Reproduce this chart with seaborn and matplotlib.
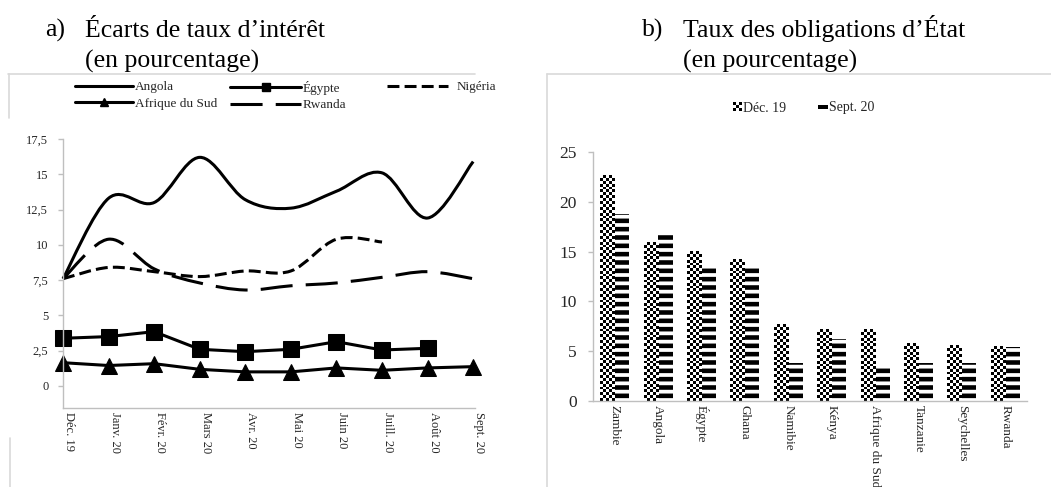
import numpy as np
import pandas as pd
import matplotlib
matplotlib.use("Agg")
import matplotlib.pyplot as plt
import seaborn as sns
from matplotlib.path import Path
from matplotlib.patches import PathPatch, Rectangle, Patch
from matplotlib.lines import Line2D
from matplotlib.legend_handler import HandlerBase

# ---------------- data ----------------
mois = ["Déc. 19", "Janv. 20", "Févr. 20", "Mars 20", "Avr. 20", "Mai 20",
        "Juin 20", "Juill. 20", "Août 20", "Sept. 20"]
angola = [7.6, 13.3, 13.0, 16.2, 13.2, 12.6, 13.8, 15.1, 11.9, 15.9]
egypte = [3.38, 3.5, 3.85, 2.6, 2.43, 2.6, 3.14, 2.55, 2.67, np.nan]
nigeria = [7.6, 8.4, 8.1, 7.75, 8.15, 8.15, 10.4, 10.2, np.nan, np.nan]
afrique_sud = [1.65, 1.45, 1.58, 1.18, 1.0, 1.0, 1.28, 1.11, 1.28, 1.37]
rwanda = [7.6, 10.4, 8.3, 7.3, 6.8, 7.1, 7.3, 7.7, 8.1, 7.6]
yticks_a = [0, 2.5, 5, 7.5, 10, 12.5, 15, 17.5]

pays = ["Zambie", "Angola", "Égypte", "Ghana", "Namibie", "Kénya",
        "Afrique du Sud", "Tanzanie", "Seychelles", "Rwanda"]
dec19 = [22.6, 15.9, 15.0, 14.2, 7.65, 7.15, 7.15, 5.8, 5.6, 5.45]
sept20 = [18.8, 17.0, 13.6, 13.6, 3.8, 6.2, 3.45, 3.8, 3.8, 5.45]
yticks_b = [0, 5, 10, 15, 20, 25]

# ---------------- style ----------------
sns.set_style("white")
plt.rcParams["font.family"] = ["Liberation Serif", "DejaVu Serif"]
plt.rcParams["hatch.linewidth"] = 3.3
plt.rcParams["hatch.color"] = "black"
GREY = "#bfbfbf"
FRAME = "#d9d9d9"
LW = 2.2

W, H = 1051, 487
fig = plt.figure(figsize=(W / 100, H / 100), dpi=100)
fig.patch.set_facecolor("white")


def fx(px):
    return px / W


def fy(py):
    return 1 - py / H


# chart-area frame fragments
for (x0, y0, x1, y1) in [(8, 74, 475, 74), (9, 74, 9, 118), (10, 438, 10, 487),
                         (547, 74, 1051, 74), (547, 74, 547, 487)]:
    fig.add_artist(Line2D([fx(x0), fx(x1)], [fy(y0), fy(y1)],
                          transform=fig.transFigure, color=FRAME, lw=1.2))

# titles
tkw = dict(fontsize=18.5, va="baseline", ha="left", color="black")
fig.text(fx(45), fy(37), "a)", **tkw)
fig.text(fx(85), fy(37), "Écarts de taux d\u2019intérêt", **tkw)
fig.text(fx(85), fy(68), "(en pourcentage)", **tkw)
fig.text(fx(642), fy(37), "b)", **tkw)
fig.text(fx(683), fy(37), "Taux des obligations d\u2019État", **tkw)
fig.text(fx(683), fy(68), "(en pourcentage)", **tkw)

# ---------------- panel a ----------------
ax1 = fig.add_axes([fx(63), fy(408), (475 - 63) / W, (408 - 139) / H])
x = np.arange(len(mois))
df_a = pd.DataFrame({"x": x, "Égypte": egypte, "Afrique du Sud": afrique_sud})
sns.lineplot(data=df_a, x="x", y="Égypte", ax=ax1, color="black", lw=LW,
             marker="s", markersize=11, markeredgecolor="black")
sns.lineplot(data=df_a, x="x", y="Afrique du Sud", ax=ax1, color="black", lw=LW,
             marker="^", markersize=11, markeredgecolor="black")
for ln in ax1.lines:
    ln.set_clip_on(False)


def smooth_path(xs, ys):
    P = np.array([(a, b) for a, b in zip(xs, ys) if not np.isnan(b)], float)
    n = len(P)
    verts = [P[0]]
    codes = [Path.MOVETO]
    for i in range(n - 1):
        p0 = P[i - 1] if i > 0 else P[i]
        p1 = P[i]
        p2 = P[i + 1]
        p3 = P[i + 2] if i + 2 < n else P[i + 1]
        verts += [p1 + (p2 - p0) / 6, p2 - (p3 - p1) / 6, p2]
        codes += [Path.CURVE4] * 3
    return Path(verts, codes)


dash_short = (0, (3.9, 1.7))
dash_long = (0, (10.5, 4.3))
for ys, ls in [(rwanda, dash_long), (nigeria, dash_short), (angola, "solid")]:
    ax1.add_patch(PathPatch(smooth_path(x, ys), fill=False, edgecolor="black",
                            lw=LW, linestyle=ls, capstyle="butt", clip_on=False))

ax1.set_xlim(0, 9.04)
ax1.set_ylim(-1.56, 17.5)
ax1.set_yticks(yticks_a)
ax1.set_yticklabels([f"{v:g}".replace(".", ",") for v in yticks_a], fontsize=9)
ax1.set_xticks(x)
ax1.set_xticklabels(mois, rotation=270, ha="left", va="top", fontsize=9)
ax1.set_xlabel("")
ax1.set_ylabel("")
ax1.tick_params(axis="y", length=3.6, width=1, color=GREY, pad=7, left=True)
ax1.tick_params(axis="x", length=0, pad=3)
for s in ["top", "right"]:
    ax1.spines[s].set_visible(False)
for s in ["left", "bottom"]:
    ax1.spines[s].set_color(GREY)
    ax1.spines[s].set_linewidth(1)
ax1.patch.set_alpha(0)

# legend a (three columns placed separately)
h_angola = Line2D([], [], color="black", lw=LW)
h_ads = Line2D([], [], color="black", lw=LW, marker="^", markersize=6)
h_egy = Line2D([], [], color="black", lw=LW, marker="s", markersize=6)
h_rwa = Line2D([], [], color="black", lw=LW, linestyle=dash_long)
h_nig = Line2D([], [], color="black", lw=LW, linestyle=dash_short)
lkw = dict(loc="upper left", bbox_transform=fig.transFigure, frameon=False,
           borderpad=0, borderaxespad=0, fontsize=9.5, labelspacing=0.32,
           handletextpad=0.12, numpoints=1)
leg1 = ax1.legend([h_angola, h_ads], ["Angola", "Afrique du Sud"],
                  bbox_to_anchor=(fx(75), fy(81)), handlelength=4.4, **lkw)
ax1.add_artist(leg1)
leg2 = ax1.legend([h_egy, h_rwa], ["Égypte", "Rwanda"],
                  bbox_to_anchor=(fx(230), fy(81)), handlelength=5.4, **lkw)
ax1.add_artist(leg2)
lkw3 = dict(lkw)
lkw3["handletextpad"] = 0.7
leg3 = ax1.legend([h_nig], ["Nigéria"], bbox_to_anchor=(fx(387), fy(81)),
                  handlelength=4.6, **lkw3)

# ---------------- panel b ----------------
ax2 = fig.add_axes([fx(593), fy(401), (1027 - 593) / W, (401 - 152) / H])
df_b = pd.DataFrame({"pays": pays * 2, "taux": dec19 + sept20,
                     "periode": ["Déc. 19"] * len(pays) + ["Sept. 20"] * len(pays)})
sns.barplot(data=df_b, x="pays", y="taux", hue="periode", order=pays,
            hue_order=["Déc. 19", "Sept. 20"], palette=["white", "white"],
            saturation=1, width=0.67, gap=0, edgecolor="black", linewidth=0,
            errorbar=None, legend=False, ax=ax2)
ax2.set_xlim(-0.5, 9.5)
ax2.set_ylim(0, 25)
for p in ax2.containers[1]:
    p.set_hatch("--")
    p.set_linewidth(0)

# checkerboard fill for Déc. 19 bars
CELL = 2.9
for p in ax2.containers[0]:
    x0, w, h = p.get_x(), p.get_width(), p.get_height()
    a0 = ax2.transData.transform((x0, 0))
    a1 = ax2.transData.transform((x0 + w, h))
    cols = max(1, int(round((a1[0] - a0[0]) / CELL)))
    rows = max(1, int(round((a1[1] - a0[1]) / CELL)))
    arr = np.add.outer(np.arange(rows), np.arange(cols)) % 2
    ax2.imshow(arr, cmap="binary", vmin=0, vmax=1, extent=(x0, x0 + w, 0, h),
               aspect="auto", interpolation="nearest", zorder=3)
ax2.set_xlim(-0.5, 9.5)
ax2.set_ylim(0, 25)
ax2.set_aspect("auto")

ax2.set_yticks(yticks_b)
ax2.set_yticklabels([f"{v:g}" for v in yticks_b], fontsize=12.5)
ax2.set_xticks(range(len(pays)))
ax2.set_xticklabels(pays, rotation=270, ha="center", va="top", fontsize=9.5)
ax2.set_xlabel("")
ax2.set_ylabel("")
ax2.tick_params(axis="y", length=3.6, width=1, color=GREY, pad=8, left=True)
ax2.tick_params(axis="x", length=0, pad=3)
for s in ["top", "right"]:
    ax2.spines[s].set_visible(False)
for s in ["left", "bottom"]:
    ax2.spines[s].set_color(GREY)
    ax2.spines[s].set_linewidth(1)
    ax2.spines[s].set_zorder(4)
ax2.patch.set_alpha(0)


class CheckerHandler(HandlerBase):
    def create_artists(self, legend, orig_handle, xdescent, ydescent,
                       width, height, fontsize, trans):
        s = min(width, height)
        n = 3
        c = s / n
        x0 = -xdescent + width - s
        y0 = -ydescent + (height - s) / 2
        arts = []
        for i in range(n):
            for j in range(n):
                if (i + j) % 2 == 0:
                    arts.append(Rectangle((x0 + i * c, y0 + j * c), c, c,
                                          facecolor="black", edgecolor="none",
                                          transform=trans))
        return arts


class StripeHandler(HandlerBase):
    def create_artists(self, legend, orig_handle, xdescent, ydescent,
                       width, height, fontsize, trans):
        hh = height * 0.45
        return [Rectangle((-xdescent, -ydescent + (height - hh) / 2), width, hh,
                          facecolor="black", edgecolor="none", transform=trans)]


h_dec = Patch(facecolor="white")
h_sep = Patch(facecolor="black")
ax2.legend([h_dec, h_sep], ["Déc. 19", "Sept. 20"], ncol=2, loc="center left",
           bbox_to_anchor=(fx(732), fy(108)), bbox_transform=fig.transFigure,
           frameon=False, borderpad=0, borderaxespad=0, fontsize=10,
           handlelength=0.7, handleheight=0.6, handletextpad=0.1,
           columnspacing=2.3,
           handler_map={h_dec: CheckerHandler(), h_sep: StripeHandler()})

fig.savefig("out.png", dpi=100, facecolor="white")
